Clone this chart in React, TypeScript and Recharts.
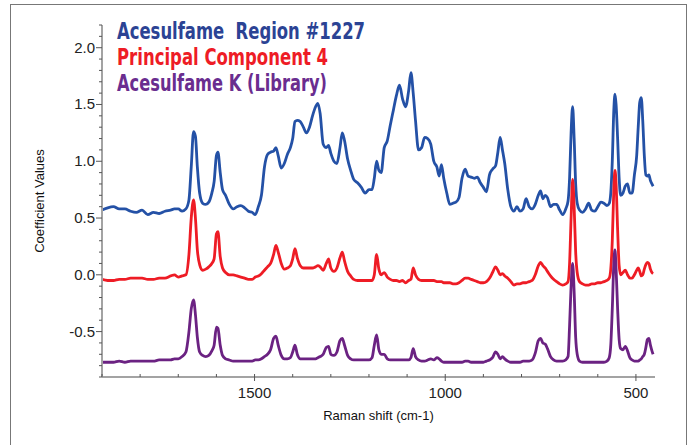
import { LineChart, Line, XAxis, YAxis, Label } from "recharts"

// Raman shift grid (cm-1), shared by all three spectra
const shifts = [
  1900, 1885, 1870, 1855, 1840, 1825, 1810, 1795, 1780, 1765, 1750, 1735, 1720, 1710, 1700, 1690, 1680, 1672, 1666, 1660,
  1655, 1650, 1644, 1636, 1628, 1620, 1612, 1606, 1600, 1596, 1590, 1584, 1576, 1566, 1556, 1546, 1536, 1526, 1516, 1506,
  1498, 1490, 1482, 1474, 1466, 1458, 1450, 1444, 1438, 1430, 1422, 1414, 1406, 1400, 1394, 1388, 1380, 1372, 1364, 1356,
  1348, 1340, 1334, 1328, 1320, 1312, 1306, 1300, 1292, 1284, 1276, 1270, 1264, 1256, 1248, 1240, 1230, 1220, 1210, 1200,
  1192, 1186, 1180, 1174, 1168, 1160, 1152, 1144, 1136, 1128, 1120, 1112, 1104, 1096, 1090, 1084, 1078, 1070, 1062, 1054,
  1046, 1038, 1030, 1022, 1016, 1010, 1004, 996, 988, 980, 972, 964, 956, 948, 940, 932, 924, 916, 908, 900,
  892, 884, 876, 868, 862, 856, 850, 844, 836, 828, 820, 812, 804, 796, 788, 780, 772, 764, 756, 750,
  744, 738, 732, 724, 716, 708, 700, 692, 684, 678, 674, 670, 666, 662, 658, 654, 648, 640, 632, 624,
  616, 608, 600, 592, 584, 576, 570, 566, 562, 558, 555, 552, 548, 544, 540, 534, 528, 522, 516, 510,
  504, 498, 494, 490, 486, 482, 478, 474, 470, 466, 462, 458, 455,
]

const regionValues = [
  0.57, 0.59, 0.6, 0.58, 0.58, 0.56, 0.55, 0.57, 0.53, 0.55, 0.54, 0.56, 0.57, 0.58, 0.58, 0.56, 0.58, 0.66, 0.95, 1.26,
  1.22, 0.95, 0.72, 0.63, 0.62, 0.64, 0.72, 0.82, 1.05, 1.08, 0.9, 0.75, 0.7, 0.62, 0.58, 0.6, 0.61, 0.59, 0.56, 0.55,
  0.53, 0.6, 0.7, 0.95, 1.06, 1.08, 1.09, 1.12, 1.05, 0.94, 0.98, 1.06, 1.12, 1.2, 1.35, 1.36, 1.35, 1.3, 1.25, 1.3,
  1.4, 1.48, 1.51, 1.42, 1.15, 1.12, 1.14, 1.07, 1.0, 0.98, 1.12, 1.25, 1.18, 1.02, 0.92, 0.84, 0.81, 0.77, 0.72, 0.75,
  0.75, 0.85, 1.0, 0.92, 0.9, 1.12, 1.18, 1.32, 1.45, 1.58, 1.67, 1.55, 1.48, 1.62, 1.78, 1.6, 1.36, 1.1, 1.12, 1.21,
  1.2, 1.15, 1.0, 0.95, 0.87, 0.97, 0.85, 0.72, 0.62, 0.63, 0.64, 0.68, 0.85, 0.93, 0.87, 0.86, 0.85, 0.86, 0.81, 0.77,
  0.73, 0.88, 0.93, 0.96, 1.08, 1.21, 1.1, 0.98, 0.75, 0.6, 0.56, 0.6, 0.56, 0.58, 0.67, 0.6, 0.58, 0.62, 0.7, 0.74,
  0.67, 0.7, 0.68, 0.6, 0.62, 0.62, 0.57, 0.53, 0.58, 0.65, 0.85, 1.25, 1.48, 1.2, 0.8, 0.63, 0.57, 0.55, 0.58, 0.63,
  0.57, 0.56, 0.6, 0.64, 0.63, 0.61, 0.63, 0.72, 1.0, 1.45, 1.59, 1.5, 1.2, 0.85, 0.7, 0.72, 0.78, 0.8, 0.72, 0.72,
  0.88, 1.05, 1.3, 1.52, 1.56, 1.35, 1.05, 0.88, 0.87, 0.88, 0.83, 0.8, 0.78,
]

const componentValues = [
  -0.04, -0.05, -0.05, -0.04, -0.04, -0.03, -0.03, -0.03, -0.04, -0.04, -0.03, -0.03, -0.01, 0.0, -0.02, -0.01, 0.0, 0.18, 0.5, 0.66,
  0.5, 0.22, 0.09, 0.04, 0.05, 0.07, 0.1, 0.14, 0.36, 0.38, 0.16, 0.06, 0.02, 0.0, 0.0, -0.01, -0.02, -0.03, -0.04, -0.04,
  -0.02, -0.01, 0.01, 0.04, 0.07, 0.1, 0.18, 0.26, 0.2, 0.1, 0.05, 0.06, 0.08, 0.14, 0.23, 0.15, 0.08, 0.06, 0.06, 0.06,
  0.06, 0.07, 0.08, 0.07, 0.04, 0.1, 0.14, 0.06, 0.03, 0.06, 0.15, 0.2, 0.12, 0.03, -0.01, -0.04, -0.05, -0.05, -0.05, -0.05,
  -0.05, 0.0, 0.18, 0.05, 0.0, 0.02, -0.02, -0.04, -0.05, -0.05, -0.06, -0.05, -0.07, -0.05, -0.04, 0.06, 0.0, -0.04, -0.05, -0.05,
  -0.05, -0.05, -0.05, -0.06, -0.06, -0.06, -0.07, -0.07, -0.07, -0.08, -0.08, -0.07, -0.05, -0.03, -0.03, -0.04, -0.05, -0.06, -0.07, -0.07,
  -0.06, -0.03, 0.02, 0.07, 0.04, 0.0, 0.01, -0.01, -0.03, -0.06, -0.09, -0.08, -0.08, -0.07, -0.07, -0.06, -0.05, 0.0, 0.08, 0.11,
  0.08, 0.06, 0.03, -0.01, -0.04, -0.06, -0.08, -0.09, -0.08, -0.06, 0.1, 0.5, 0.84, 0.6, 0.2, 0.02, -0.06, -0.08, -0.09, -0.09,
  -0.08, -0.08, -0.07, -0.07, -0.06, -0.05, -0.03, 0.05, 0.3, 0.75, 0.92, 0.8, 0.4, 0.08, 0.0, 0.02, 0.04, 0.0, -0.03, -0.03,
  0.0, 0.04, 0.06, 0.03, -0.01, 0.0, 0.05, 0.09, 0.11, 0.1, 0.05, 0.02, 0.01,
]

const libraryValues = [
  -0.77, -0.77, -0.77, -0.76, -0.77, -0.76, -0.76, -0.76, -0.76, -0.76, -0.75, -0.75, -0.75, -0.74, -0.74, -0.72, -0.68, -0.5, -0.3, -0.22,
  -0.35, -0.55, -0.68, -0.71, -0.72, -0.71, -0.67, -0.62, -0.46, -0.47, -0.62, -0.71, -0.74, -0.75, -0.76, -0.76, -0.76, -0.76, -0.76, -0.76,
  -0.75, -0.75, -0.74, -0.72, -0.7, -0.66, -0.56, -0.54, -0.62, -0.71, -0.74, -0.74, -0.73, -0.68, -0.62, -0.7, -0.74, -0.74, -0.74, -0.74,
  -0.74, -0.74, -0.73, -0.72, -0.7, -0.64, -0.63, -0.7, -0.71, -0.68, -0.58, -0.56, -0.62, -0.71, -0.74, -0.75, -0.75, -0.75, -0.75, -0.75,
  -0.73, -0.62, -0.53, -0.66, -0.7, -0.7, -0.74, -0.75, -0.75, -0.75, -0.75, -0.75, -0.75, -0.75, -0.73, -0.65, -0.72, -0.75, -0.76, -0.76,
  -0.75, -0.74, -0.75, -0.73, -0.74, -0.76, -0.77, -0.77, -0.77, -0.77, -0.77, -0.77, -0.77, -0.76, -0.76, -0.77, -0.77, -0.77, -0.77, -0.77,
  -0.76, -0.75, -0.73, -0.68, -0.7, -0.74, -0.72, -0.74, -0.76, -0.77, -0.77, -0.77, -0.77, -0.76, -0.76, -0.76, -0.75, -0.69, -0.58, -0.56,
  -0.6, -0.61, -0.65, -0.72, -0.75, -0.76, -0.76, -0.76, -0.75, -0.72, -0.45, -0.1, 0.1, -0.15, -0.55, -0.7, -0.76, -0.77, -0.77, -0.77,
  -0.77, -0.77, -0.77, -0.77, -0.77, -0.76, -0.73, -0.62, -0.3, 0.1, 0.22, 0.05, -0.3, -0.57, -0.65, -0.66, -0.63, -0.67, -0.73, -0.75,
  -0.76, -0.76, -0.76, -0.75, -0.74, -0.72, -0.7, -0.64, -0.57, -0.56, -0.62, -0.67, -0.7,
]

const seriesNames = ["Acesulfame  Region #1227", "Principal Component 4", "Acesulfame K (Library)"]
const seriesColors = ["#2451a6", "#ee1c25", "#6b2282"]
const legendColors = ["#2b4394", "#ee1c25", "#6a2d8f"]

const yMajorTicks = [-0.5, 0, 0.5, 1, 1.5, 2]
const yTicks = [
  -0.9, -0.8, -0.7, -0.6, -0.5, -0.4, -0.3, -0.2, -0.1, 0, 0.1, 0.2, 0.3, 0.4, 0.5, 0.6, 0.7, 0.8, 0.9, 1, 1.1, 1.2, 1.3, 1.4,
  1.5, 1.6, 1.7, 1.8, 1.9, 2, 2.1, 2.2,
]
const xMajorTicks = [500, 1000, 1500]
const xTicks = [500, 600, 700, 800, 900, 1000, 1100, 1200, 1300, 1400, 1500, 1600, 1700, 1800, 1900]

const rows = shifts.map((shift, i) => ({
  shift,
  region: regionValues[i],
  component: componentValues[i],
  library: libraryValues[i],
}))

const AXIS = "#a3a3a3"
const FONT = "'Liberation Sans', Arial, sans-serif"

const YTick = (props: any) => {
  const { x, y, payload } = props
  const major = yMajorTicks.some((t) => Math.abs(t - payload.value) < 1e-6)
  return (
    <g>
      <line x1={major ? x - 6 : x - 3} x2={x} y1={y} y2={y} stroke="#555" strokeWidth={1} />
      {major && (
        <text x={x - 7} y={y + 5} textAnchor="end" fontSize={15} fontFamily={FONT} fill="#222">
          {payload.value.toFixed(1)}
        </text>
      )}
    </g>
  )
}

const XTick = (props: any) => {
  const { x, y, payload } = props
  const major = xMajorTicks.includes(payload.value)
  return (
    <g>
      <line x1={x} x2={x} y1={y - 3} y2={major ? y + 4 : y} stroke="#555" strokeWidth={1} />
      {major && (
        <text x={x} y={y + 21} textAnchor="middle" fontSize={15} fontFamily={FONT} fill="#222">
          {payload.value}
        </text>
      )}
    </g>
  )
}

const legendWidths = [248, 211, 210]
const legendBaselines = [39, 65, 91]

export default function App() {
  return (
    <div style={{ position: "absolute", left: 0, top: 0, width: 694, height: 445, background: "#fff", overflow: "hidden" }}>
      <div
        style={{
          position: "absolute",
          left: 10,
          top: 4,
          width: 677,
          height: 470,
          border: "1.5px solid #777",
          boxSizing: "border-box",
        }}
      />
      <div style={{ position: "absolute", left: 0, top: 0 }}>
        <LineChart width={694} height={445} data={rows} margin={{ top: 25, right: 39, bottom: 18, left: 20 }}>
          <XAxis
            dataKey="shift"
            type="number"
            domain={[450, 1900]}
            reversed
            allowDataOverflow
            ticks={xTicks}
            interval={0}
            tick={<XTick />}
            tickLine={false}
            tickSize={0}
            tickMargin={0}
            height={50}
            axisLine={{ stroke: AXIS, strokeWidth: 2 }}
          >
            <Label
              content={({ viewBox }: any) => (
                <text
                  x={viewBox.x + viewBox.width / 2}
                  y={viewBox.y + 43}
                  textAnchor="middle"
                  fontSize={13}
                  fontFamily={FONT}
                  fill="#111"
                >
                  Raman shift (cm-1)
                </text>
              )}
            />
          </XAxis>
          <YAxis
            type="number"
            domain={[-0.9, 2.2]}
            allowDataOverflow
            ticks={yTicks}
            interval={0}
            tick={<YTick />}
            tickLine={false}
            tickSize={0}
            tickMargin={0}
            width={82}
            axisLine={{ stroke: AXIS, strokeWidth: 2 }}
          >
            <Label
              content={({ viewBox }: any) => (
                <text
                  transform={`translate(${viewBox.x + 24}, ${viewBox.y + viewBox.height / 2}) rotate(-90)`}
                  textAnchor="middle"
                  fontSize={13}
                  fontFamily={FONT}
                  fill="#111"
                >
                  Coefficient Values
                </text>
              )}
            />
          </YAxis>
          <Line type="monotone" dataKey="region" name={seriesNames[0]} stroke={seriesColors[0]} strokeWidth={2.8} dot={false} isAnimationActive={false} />
          <Line type="monotone" dataKey="component" name={seriesNames[1]} stroke={seriesColors[1]} strokeWidth={2.8} dot={false} isAnimationActive={false} />
          <Line type="monotone" dataKey="library" name={seriesNames[2]} stroke={seriesColors[2]} strokeWidth={2.8} dot={false} isAnimationActive={false} />
        </LineChart>
      </div>
      <svg width={694} height={110} style={{ position: "absolute", left: 0, top: 0, pointerEvents: "none" }}>
        {seriesNames.map((name, i) => (
          <text
            key={name}
            x={117}
            y={legendBaselines[i]}
            textLength={legendWidths[i]}
            lengthAdjust="spacingAndGlyphs"
            fontSize={23}
            fontWeight="bold"
            fontFamily="'Liberation Sans Narrow', 'DejaVu Sans Condensed', 'Liberation Sans', sans-serif"
            fill={legendColors[i]}
            style={{ whiteSpace: "pre" }}
          >
            {name}
          </text>
        ))}
      </svg>
    </div>
  )
}
